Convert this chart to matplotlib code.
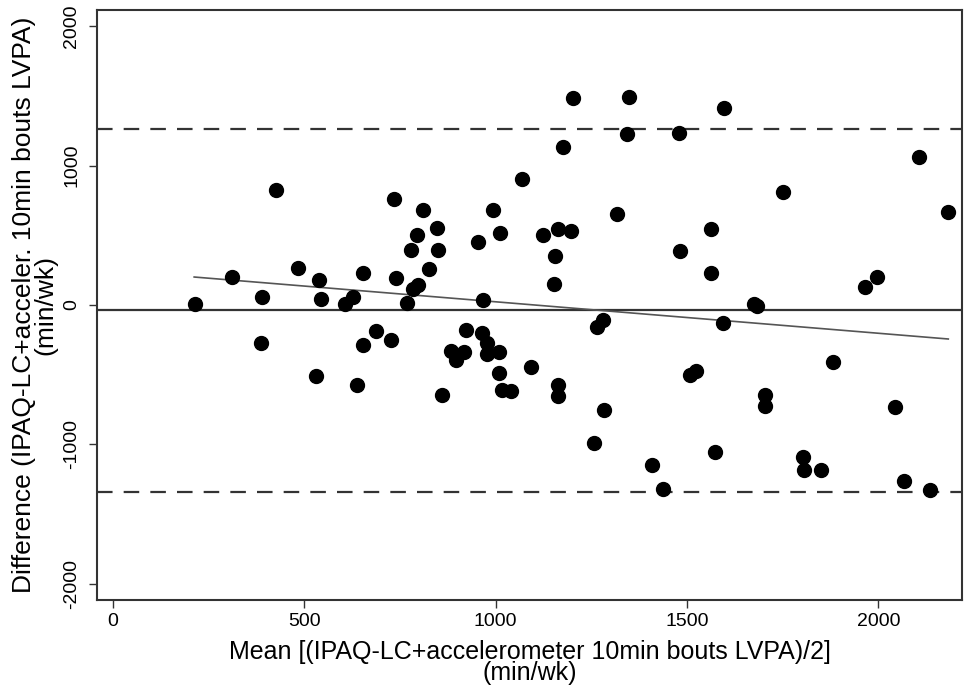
import matplotlib
matplotlib.use("Agg")
import matplotlib.pyplot as plt
import numpy as np

plt.rcParams['font.family'] = ['Liberation Sans', 'DejaVu Sans']
plt.rcParams['axes.unicode_minus'] = False

# mean of the two methods (min/wk)
mean_x = [425, 733, 809, 994, 1070, 847, 795, 1011, 955, 780,
          850, 825, 483, 312, 538, 652, 739, 796, 783, 968,
          213, 389, 543, 605, 628, 768, 386, 688, 652, 726,
          531, 638, 859, 923, 965, 978, 978, 1008, 884, 917,
          897, 1010, 1017, 1041, 1092, 1203, 1349, 1596, 1342, 1478,
          1176, 2107, 1752, 1318, 2181, 1123, 1162, 1197, 1562, 1483,
          1155, 1152, 1562, 1964, 1997, 1674, 1682, 1280, 1265, 1594,
          1881, 1164, 1164, 1283, 1508, 1524, 1703, 1703, 2045, 1257,
          1573, 1409, 1438, 1804, 1805, 1850, 2068, 2134]
# difference IPAQ-LC - accelerometer (min/wk)
diff_y = [823, 761, 680, 680, 907, 555, 505, 514, 450, 393,
          393, 261, 263, 201, 177, 232, 196, 146, 113, 38,
          7, 57, 43, 5, 57, 14, -270, -187, -290, -254,
          -510, -577, -646, -177, -199, -275, -352, -340, -333, -337,
          -395, -486, -613, -617, -447, 1488, 1495, 1417, 1225, 1237,
          1134, 1060, 809, 653, 670, 502, 543, 533, 543, 385,
          352, 153, 228, 127, 201, 9, -7, -105, -158, -131,
          -409, -572, -653, -754, -505, -474, -644, -723, -734, -991,
          -1053, -1146, -1321, -1091, -1182, -1187, -1263, -1330]

mean_diff = -36
loa_upper = 1263
loa_lower = -1345
# regression of difference on mean
reg_x = [212, 2183]
reg_y = [201, -244]

fig = plt.figure(figsize=(9.64, 6.9), dpi=100)
ax = fig.add_axes([0.1006, 0.1304, 0.8974, 0.8551])

ax.axhline(mean_diff, color='#333333', lw=1.6, zorder=1)
ax.axhline(loa_upper, color='#333333', lw=1.6, ls=(0, (7, 5)), zorder=1)
ax.axhline(loa_lower, color='#333333', lw=1.6, ls=(0, (7, 5)), zorder=1)
ax.plot(reg_x, reg_y, color='#555555', lw=1.2, zorder=2)
ax.plot(mean_x, diff_y, 'o', color='black', markersize=10, zorder=3)

ax.set_xlim(-42, 2219)
ax.set_ylim(-2118, 2118)
ax.set_xticks([0, 500, 1000, 1500, 2000])
ax.set_yticks([-2000, -1000, 0, 1000, 2000])
ax.tick_params(axis='both', labelsize=14, length=6, width=1, color='#333333')
ax.tick_params(axis='y', pad=6)
for lab in ax.get_yticklabels():
    lab.set_rotation(90)
    lab.set_va('center')
for s in ax.spines.values():
    s.set_color('#333333')
    s.set_linewidth(1.5)

ax.set_xlabel('Mean [(IPAQ-LC+accelerometer 10min bouts LVPA)/2]\n(min/wk)',
              fontsize=18, linespacing=0.85, labelpad=7)
ax.set_ylabel('Difference (IPAQ-LC+acceler. 10min bouts LVPA)\n(min/wk)',
              fontsize=19, linespacing=0.9, labelpad=4)

fig.savefig('out.png', dpi=100)
